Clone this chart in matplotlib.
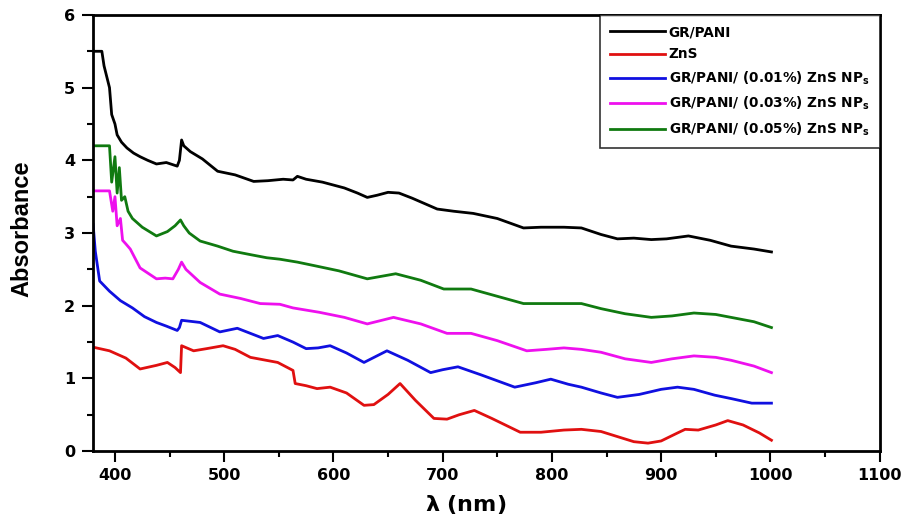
import numpy as np
import matplotlib
matplotlib.use("Agg")
import matplotlib.pyplot as plt
from matplotlib.ticker import MultipleLocator

plt.rcParams['font.family'] = ['DejaVu Sans']
plt.rcParams['font.weight'] = 'bold'
plt.rcParams['mathtext.default'] = 'bf'

# GR/PANI
wl_black = [380, 388, 390, 393, 395, 397, 400, 402, 406, 411, 417, 423, 430, 438, 447, 457, 459, 461, 463, 469,
            480, 494, 510, 527, 540, 554, 563, 567, 575, 590, 610, 622, 631, 640, 650, 660, 672, 695, 710, 728,
            750, 774, 790, 811, 827, 845, 860, 875, 891, 905, 925, 945, 964, 985, 1001]
ab_black = [5.5, 5.5, 5.3, 5.12, 5.0, 4.63, 4.5, 4.35, 4.25, 4.17, 4.1, 4.05, 4.0, 3.95, 3.97, 3.92, 4.0, 4.28, 4.2, 4.12,
            4.02, 3.85, 3.8, 3.71, 3.72, 3.74, 3.73, 3.78, 3.74, 3.7, 3.62, 3.55, 3.49, 3.52, 3.56, 3.55, 3.48, 3.33, 3.3, 3.27,
            3.2, 3.07, 3.08, 3.08, 3.07, 2.98, 2.92, 2.93, 2.91, 2.92, 2.96, 2.9, 2.82, 2.78, 2.74]

# ZnS
wl_red = [380, 395, 410, 423, 438, 448, 455, 460, 461, 472, 484, 499, 510, 524, 549, 563, 565, 575, 585, 597,
          612, 628, 637, 650, 661, 675, 692, 704, 715, 729, 745, 771, 790, 811, 827, 845, 860, 875, 888, 900,
          915, 922, 934, 950, 961, 975, 990, 1001]
ab_red = [1.43, 1.38, 1.28, 1.13, 1.18, 1.22, 1.15, 1.08, 1.45, 1.38, 1.41, 1.45, 1.4, 1.29, 1.22, 1.11, 0.93, 0.9, 0.86, 0.88,
          0.8, 0.63, 0.64, 0.78, 0.93, 0.7, 0.45, 0.44, 0.5, 0.56, 0.45, 0.26, 0.26, 0.29, 0.3, 0.27, 0.2, 0.13, 0.11, 0.14,
          0.25, 0.3, 0.29, 0.36, 0.42, 0.36, 0.25, 0.15]

# GR/PANI/ (0.01%) ZnS NPs
wl_blue = [380, 382, 386, 395, 405, 416, 427, 438, 447, 457, 459, 461, 478, 496, 512, 536, 549, 563, 575, 586,
           597, 612, 628, 649, 668, 689, 700, 714, 735, 766, 785, 799, 815, 827, 845, 860, 880, 900, 915, 930,
           949, 965, 983, 1001]
ab_blue = [3.12, 2.75, 2.34, 2.2, 2.07, 1.97, 1.85, 1.77, 1.72, 1.66, 1.7, 1.8, 1.77, 1.64, 1.69, 1.55, 1.59, 1.5, 1.41, 1.42,
           1.45, 1.35, 1.22, 1.38, 1.25, 1.08, 1.12, 1.16, 1.05, 0.88, 0.94, 0.99, 0.92, 0.88, 0.8, 0.74, 0.78, 0.85, 0.88, 0.85,
           0.77, 0.72, 0.66, 0.66]

# GR/PANI/ (0.03%) ZnS NPs
wl_mag = [380, 395, 398, 400, 402, 405, 407, 410, 414, 423, 430, 438, 446, 453, 458, 461, 465, 478, 496, 515,
          533, 551, 563, 587, 610, 631, 655, 680, 704, 726, 750, 777, 795, 811, 827, 845, 867, 891, 910, 930,
          950, 964, 985, 1001]
ab_mag = [3.58, 3.58, 3.3, 3.5, 3.1, 3.2, 2.9, 2.85, 2.78, 2.52, 2.45, 2.37, 2.38, 2.37, 2.5, 2.6, 2.5, 2.32, 2.16, 2.1,
          2.03, 2.02, 1.97, 1.91, 1.84, 1.75, 1.84, 1.75, 1.62, 1.62, 1.52, 1.38, 1.4, 1.42, 1.4, 1.36, 1.27, 1.22, 1.27, 1.31,
          1.29, 1.25, 1.17, 1.08]

# GR/PANI/ (0.05%) ZnS NPs
wl_green = [380, 395, 397, 400, 402, 404, 406, 409, 412, 416, 425, 438, 448, 455, 460, 463, 468, 478, 494, 508,
            525, 539, 551, 567, 583, 605, 631, 657, 680, 701, 726, 750, 774, 790, 811, 827, 845, 867, 891, 910,
            930, 950, 964, 985, 1001]
ab_green = [4.2, 4.2, 3.7, 4.05, 3.55, 3.9, 3.45, 3.5, 3.3, 3.2, 3.08, 2.96, 3.02, 3.1, 3.18, 3.1, 3.0, 2.89, 2.82, 2.75,
            2.7, 2.66, 2.64, 2.6, 2.55, 2.48, 2.37, 2.44, 2.35, 2.23, 2.23, 2.13, 2.03, 2.03, 2.03, 2.03, 1.96, 1.89, 1.84, 1.86,
            1.9, 1.88, 1.84, 1.78, 1.70]

series = [
    (wl_black, ab_black, 'black', 'GR/PANI'),
    (wl_red, ab_red, '#e01010', 'ZnS'),
    (wl_blue, ab_blue, '#1010e0', r'GR/PANI/ (0.01%) ZnS NP$_{s}$'),
    (wl_mag, ab_mag, '#ee10ee', r'GR/PANI/ (0.03%) ZnS NP$_{s}$'),
    (wl_green, ab_green, '#107a10', r'GR/PANI/ (0.05%) ZnS NP$_{s}$'),
]

fig = plt.figure(figsize=(9.04, 5.15), dpi=100)
ax = fig.add_axes([0.103, 0.124, 0.870, 0.847])

for x, y, c, lab in series:
    ax.plot(x, y, color=c, lw=2.0, label=lab)

ax.set_xlim(380, 1100)
ax.set_ylim(0, 6)
ax.xaxis.set_major_locator(MultipleLocator(100))
ax.xaxis.set_minor_locator(MultipleLocator(50))
ax.yaxis.set_major_locator(MultipleLocator(1))
ax.yaxis.set_minor_locator(MultipleLocator(0.5))
ax.tick_params(which='both', direction='out', top=False, right=False, width=1.5)
ax.tick_params(which='major', length=8, labelsize=11.5)
ax.tick_params(which='minor', length=4.5)
ax.tick_params(axis='x', pad=4)
ax.tick_params(axis='y', pad=5)
for s in ax.spines.values():
    s.set_linewidth(2.0)

ax.set_xlabel(r'$\lambda$ (nm)', fontsize=16, fontweight='bold')
ax.xaxis.set_label_coords(0.474, -0.096)
ax.set_ylabel('Absorbance', fontsize=17, fontweight='bold', family='Liberation Sans')
ax.yaxis.set_label_coords(-0.076, 0.51)

leg = ax.legend(loc='upper right', borderaxespad=0, fancybox=False, fontsize=9.8,
                handlelength=4.0, handletextpad=0.3, labelspacing=0.6, borderpad=0.75)
leg.get_frame().set_edgecolor('black')
leg.get_frame().set_linewidth(1.2)

fig.savefig('out.png', dpi=100)
